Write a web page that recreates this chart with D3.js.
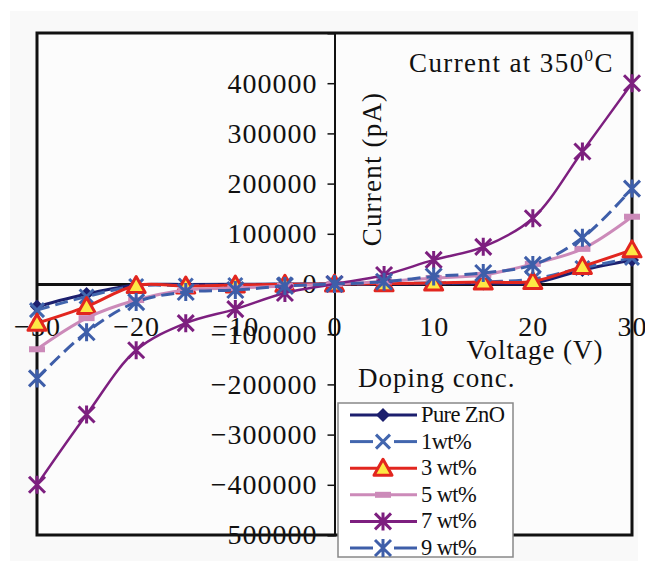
<!DOCTYPE html>
<html>
<head>
<meta charset="utf-8">
<script src="https://cdn.jsdelivr.net/npm/d3@7"></script>
<style>
  body { margin: 0; background: #fff; }
  svg text { font-family: "Liberation Serif", "Times New Roman", serif; fill: #111; }
</style>
</head>
<body>
<svg id="chart"></svg>
<script>
// Voltage steps (V)
const voltage = [-30, -25, -20, -15, -10, -5, 0, 5, 10, 15, 20, 25, 30];

// Current (pA) for each doping concentration
const pureZnO = [-45000, -20000, -2000, -1000, -500, -200, 0, 200, 500, 1000, 2000, 28000, 48000];
const wt1 = [-52000, -25000, -4000, -3000, -2000, -500, 0, 500, 2000, 4000, 10000, 32000, 52000];
const wt3 = [-78000, -45000, -3000, -4000, -2000, -500, 0, 500, 2000, 4000, 5000, 35000, 68000];
const wt5 = [-130000, -68000, -32000, -12000, -8000, -4000, 0, 5000, 12000, 18000, 40000, 70000, 134000];
const wt7 = [-400000, -260000, -132000, -78000, -50000, -18000, 0, 18000, 48000, 74000, 131000, 264000, 400000];
const wt9 = [-188000, -96000, -36000, -16000, -12000, -4000, 0, 4500, 15000, 22000, 38000, 92000, 190000];

const seriesNames = ["Pure ZnO", "1wt%", "3 wt%", "5 wt%", "7 wt%", "9 wt%"];
const seriesValues = [pureZnO, wt1, wt3, wt5, wt7, wt9];

// Axis ticks
const xTicks = [-30, -20, -10, 0, 10, 20, 30];
const yTicks = [400000, 300000, 200000, 100000, 0, -100000, -200000, -300000, -400000, -500000];

// Look of each series
const styles = [
    { color: "#1c1f6e", marker: "diamond", dash: null, width: 3 },
    { color: "#4266ae", marker: "x", dash: "13,6", width: 3 },
    { color: "#e2261f", marker: "triangle", dash: null, width: 3 },
    { color: "#cc8ab9", marker: "bar", dash: null, width: 3 },
    { color: "#7d1f7f", marker: "star", dash: null, width: 2.5 },
    { color: "#3e5ea9", marker: "star", dash: "13,6", width: 3 }
];

const width = 645;
const height = 561;

const svg = d3.select("#chart")
    .attr("width", width)
    .attr("height", height);

// Light grey chart area
svg.append("rect")
    .attr("x", 10).attr("y", 11)
    .attr("width", 628).attr("height", 550)
    .attr("fill", "#f9f9f9");

const x = d3.scaleLinear().domain([-30, 30]).range([37, 632]);
const y = d3.scaleLinear().domain([-500000, 500000]).range([535, 33]);

// Plot area frame
svg.append("rect")
    .attr("x", x(-30)).attr("y", y(500000))
    .attr("width", x(30) - x(-30)).attr("height", y(-500000) - y(500000))
    .attr("fill", "#fcfcfc")
    .attr("stroke", "#111")
    .attr("stroke-width", 3);

// Y axis crossing at 0 V
const yAxis = svg.append("g")
    .attr("transform", `translate(${x(0)},0)`)
    .call(d3.axisLeft(y).tickValues(yTicks).tickSize(7).tickPadding(10).tickFormat(d3.format("d")));
yAxis.select(".domain").attr("stroke", "#111").attr("stroke-width", 2);
yAxis.selectAll(".tick line").attr("stroke", "#111").attr("stroke-width", 1.5);
yAxis.selectAll(".tick text")
    .attr("font-size", 28)
    .attr("letter-spacing", 1)
    .attr("fill", "#111")
    .style("font-family", "'Liberation Serif', serif");

// X axis crossing at 0 pA
const xAxis = svg.append("g")
    .attr("transform", `translate(0,${y(0)})`)
    .call(d3.axisBottom(x).tickValues(xTicks).tickSize(0).tickPadding(32).tickFormat(d3.format("d")));
xAxis.select(".domain").attr("stroke", "#111").attr("stroke-width", 3);
xAxis.selectAll(".tick text")
    .attr("font-size", 28)
    .attr("letter-spacing", 1)
    .attr("fill", "#111")
    .style("font-family", "'Liberation Serif', serif");

// Marker drawing helper
function drawMarker(g, type, color, cx, cy) {
    if (type === "diamond") {
        g.append("path")
            .attr("d", `M${cx},${cy - 7}L${cx + 7},${cy}L${cx},${cy + 7}L${cx - 7},${cy}Z`)
            .attr("fill", color);
    } else if (type === "x") {
        const r = 7;
        g.append("path")
            .attr("d", `M${cx - r},${cy - r}L${cx + r},${cy + r}M${cx - r},${cy + r}L${cx + r},${cy - r}`)
            .attr("stroke", color).attr("stroke-width", 3).attr("fill", "none");
    } else if (type === "triangle") {
        g.append("path")
            .attr("d", `M${cx},${cy - 9}L${cx + 9},${cy + 7}L${cx - 9},${cy + 7}Z`)
            .attr("stroke", color).attr("stroke-width", 3)
            .attr("stroke-linejoin", "round")
            .attr("fill", "#fde845");
    } else if (type === "bar") {
        g.append("rect")
            .attr("x", cx - 8).attr("y", cy - 3)
            .attr("width", 16).attr("height", 6)
            .attr("fill", color);
    } else if (type === "star") {
        const r = 8;
        g.append("path")
            .attr("d", `M${cx - r},${cy - r}L${cx + r},${cy + r}M${cx - r},${cy + r}L${cx + r},${cy - r}M${cx},${cy - r - 1}L${cx},${cy + r + 1}`)
            .attr("stroke", color).attr("stroke-width", 3).attr("fill", "none");
    }
}

// Series lines and markers
const line = d3.line()
    .x(d => x(d.v))
    .y(d => y(d.i))
    .curve(d3.curveCatmullRom.alpha(0.5));

seriesValues.forEach((vals, k) => {
    const s = styles[k];
    const pts = voltage.map((v, j) => ({ v: v, i: vals[j] }));
    const g = svg.append("g");
    g.append("path")
        .datum(pts)
        .attr("d", line)
        .attr("fill", "none")
        .attr("stroke", s.color)
        .attr("stroke-width", s.width)
        .attr("stroke-dasharray", s.dash);
    pts.forEach(p => drawMarker(g, s.marker, s.color, x(p.v), y(p.i)));
});

// Title
const title = svg.append("text")
    .attr("x", 409).attr("y", 72)
    .attr("font-size", 27)
    .attr("letter-spacing", 1.4);
title.append("tspan").text("Current at 350");
title.append("tspan").attr("font-size", 17).attr("dy", -11).text("0");
title.append("tspan").attr("dy", 11).text("C");

// Axis titles
svg.append("text")
    .attr("transform", `translate(381,169) rotate(-90)`)
    .attr("text-anchor", "middle")
    .attr("font-size", 27)
    .attr("letter-spacing", 1.2)
    .text("Current (pA)");

svg.append("text")
    .attr("x", 535).attr("y", 359)
    .attr("text-anchor", "middle")
    .attr("font-size", 27)
    .attr("letter-spacing", 1)
    .text("Voltage (V)");

svg.append("text")
    .attr("x", 358).attr("y", 387)
    .attr("font-size", 27)
    .attr("letter-spacing", 1)
    .text("Doping conc.");

// Legend
const legend = svg.append("g");
legend.append("rect")
    .attr("x", 338).attr("y", 403)
    .attr("width", 175).attr("height", 154)
    .attr("fill", "#fff")
    .attr("stroke", "#888")
    .attr("stroke-width", 1.5);

seriesNames.forEach((name, k) => {
    const s = styles[k];
    const cy = 415 + k * 26.6;
    if (s.dash) {
        legend.append("line")
            .attr("x1", 350).attr("x2", 373).attr("y1", cy).attr("y2", cy)
            .attr("stroke", s.color).attr("stroke-width", 3);
        legend.append("line")
            .attr("x1", 394).attr("x2", 417).attr("y1", cy).attr("y2", cy)
            .attr("stroke", s.color).attr("stroke-width", 3);
    } else {
        legend.append("line")
            .attr("x1", 350).attr("x2", 417).attr("y1", cy).attr("y2", cy)
            .attr("stroke", s.color).attr("stroke-width", 3);
    }
    drawMarker(legend, s.marker, s.color, 383, cy);
    legend.append("text")
        .attr("x", 421).attr("y", cy + 7)
        .attr("font-size", 22.5)
        .attr("letter-spacing", -0.6)
        .text(name);
});
</script>
</body>
</html>
